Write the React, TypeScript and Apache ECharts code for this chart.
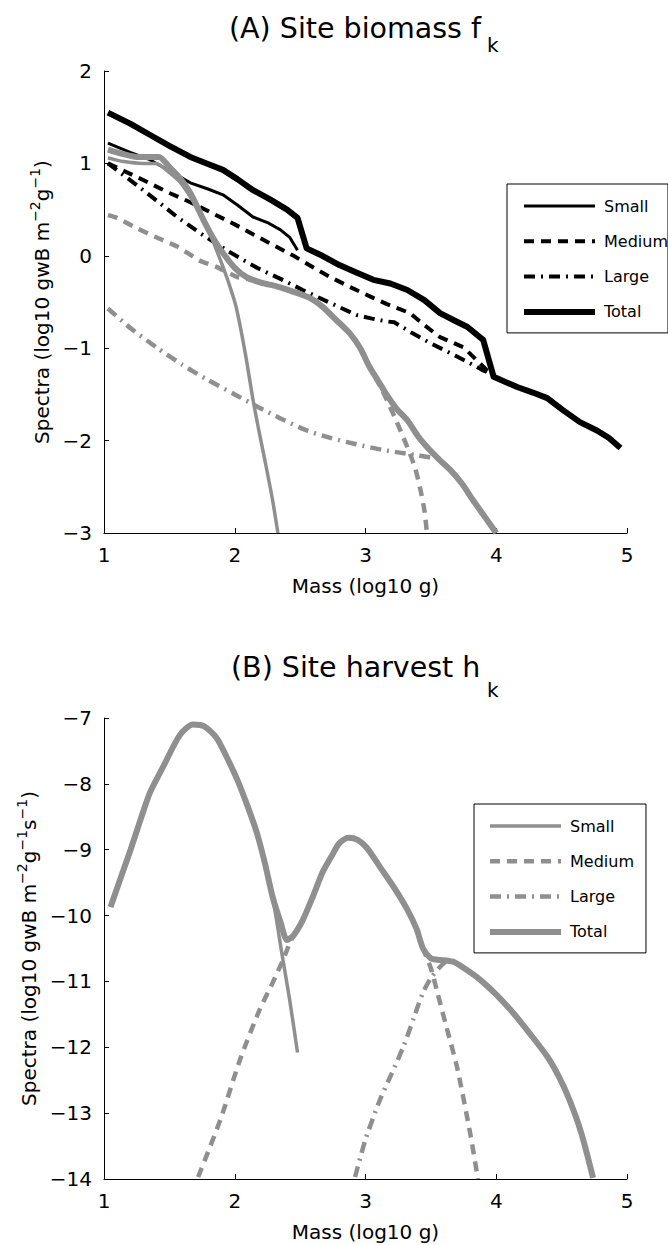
import React, { useEffect, useRef } from 'react';
import * as echarts from 'echarts';

const FONT = 'DejaVu Sans';
const BLACK = '#000000';
const GRAY = '#8f8f8f';

const legendNames = ['Small', 'Medium', 'Large', 'Total'];
const xAxisName = 'Mass (log10 g)';
const titleA = '(A) Site biomass f';
const titleB = '(B) Site harvest h';

// Panel A: site biomass (black)
const bioSmallBlack = [[1.03,1.22],[1.2,1.12],[1.35,1.04],[1.5,0.92],[1.66,0.79],[1.8,0.72],[1.91,0.66],[2.02,0.55],[2.14,0.42],[2.25,0.36],[2.35,0.28],[2.42,0.2],[2.48,0.06]];
const bioMediumBlack = [[1.03,1.0],[1.15,0.92],[1.3,0.82],[1.5,0.68],[1.66,0.58],[1.83,0.46],[2.0,0.34],[2.25,0.15],[2.45,0.0],[2.63,-0.15],[2.73,-0.23],[2.9,-0.35],[3.05,-0.45],[3.16,-0.52],[3.34,-0.62],[3.45,-0.75],[3.57,-0.88],[3.75,-0.99],[3.93,-1.24],[3.98,-1.28]];
const bioLargeBlack = [[1.03,1.0],[1.2,0.82],[1.4,0.6],[1.55,0.43],[1.73,0.25],[1.95,0.05],[2.17,-0.13],[2.35,-0.25],[2.52,-0.37],[2.73,-0.51],[2.93,-0.64],[3.05,-0.68],[3.16,-0.71],[3.22,-0.72],[3.35,-0.83],[3.49,-0.94],[3.7,-1.09],[3.9,-1.24],[3.98,-1.29]];
const bioTotalBlack = [[1.03,1.55],[1.2,1.43],[1.35,1.31],[1.5,1.19],[1.66,1.07],[1.8,0.99],[1.91,0.93],[2.02,0.83],[2.14,0.71],[2.27,0.61],[2.4,0.5],[2.48,0.41],[2.55,0.08],[2.67,0.0],[2.8,-0.1],[2.93,-0.18],[3.06,-0.26],[3.19,-0.3],[3.32,-0.37],[3.45,-0.48],[3.57,-0.62],[3.68,-0.7],[3.78,-0.77],[3.9,-0.91],[3.98,-1.31],[4.16,-1.42],[4.28,-1.48],[4.39,-1.54],[4.51,-1.67],[4.64,-1.8],[4.77,-1.89],[4.86,-1.97],[4.95,-2.08]];

// Panel A: site biomass (gray)
const bioSmallGray = [[1.03,1.06],[1.15,1.02],[1.3,1.0],[1.4,1.0],[1.5,0.9],[1.58,0.8],[1.66,0.64],[1.73,0.48],[1.79,0.31],[1.85,0.1],[1.91,-0.12],[1.96,-0.32],[2.01,-0.55],[2.08,-1.05],[2.14,-1.56],[2.19,-1.93],[2.24,-2.28],[2.29,-2.65],[2.33,-3.0]];
const bioMediumGray = [[1.03,0.44],[1.1,0.41],[1.25,0.3],[1.4,0.2],[1.56,0.1],[1.73,-0.05],[1.86,-0.12],[2.02,-0.23],[2.09,-0.25],[2.2,-0.29],[2.32,-0.33],[2.45,-0.39],[2.58,-0.46],[2.67,-0.55],[2.78,-0.7],[2.88,-0.84],[2.96,-1.0],[3.03,-1.2],[3.1,-1.38],[3.16,-1.55],[3.24,-1.8],[3.32,-2.07],[3.38,-2.3],[3.42,-2.53],[3.45,-2.75],[3.47,-3.0]];
const bioLargeGray = [[1.03,-0.57],[1.2,-0.78],[1.4,-0.99],[1.6,-1.18],[1.79,-1.34],[2.0,-1.5],[2.17,-1.63],[2.35,-1.76],[2.55,-1.89],[2.73,-1.97],[2.93,-2.04],[3.13,-2.1],[3.26,-2.13],[3.4,-2.16],[3.49,-2.18],[3.56,-2.2],[3.65,-2.32],[3.74,-2.47],[3.82,-2.64],[3.91,-2.82],[4.0,-3.0]];
const bioTotalGray = [[1.03,1.15],[1.15,1.1],[1.25,1.07],[1.35,1.07],[1.42,1.07],[1.5,0.96],[1.58,0.84],[1.66,0.68],[1.76,0.39],[1.84,0.18],[1.91,0.03],[2.0,-0.13],[2.09,-0.23],[2.2,-0.29],[2.32,-0.33],[2.45,-0.39],[2.58,-0.46],[2.67,-0.55],[2.78,-0.7],[2.88,-0.84],[2.96,-1.0],[3.03,-1.2],[3.1,-1.36],[3.16,-1.5],[3.24,-1.66],[3.32,-1.78],[3.4,-1.95],[3.47,-2.07],[3.56,-2.2],[3.65,-2.32],[3.74,-2.47],[3.82,-2.64],[3.91,-2.82],[4.0,-3.0]];

// Panel B: site harvest (gray)
const harvSmall = [[1.05,-9.87],[1.12,-9.47],[1.2,-9.02],[1.27,-8.6],[1.35,-8.14],[1.45,-7.75],[1.58,-7.26],[1.68,-7.1],[1.77,-7.13],[1.86,-7.3],[1.94,-7.6],[2.02,-7.94],[2.1,-8.35],[2.17,-8.75],[2.23,-9.2],[2.29,-9.72],[2.36,-10.57],[2.42,-11.28],[2.48,-12.08]];
const harvMedium = [[1.72,-13.97],[1.89,-13.1],[2.04,-12.19],[2.19,-11.43],[2.29,-11.02],[2.37,-10.67],[2.42,-10.42],[2.45,-10.3],[2.52,-10.07],[2.6,-9.7],[2.67,-9.35],[2.74,-9.1],[2.8,-8.9],[2.87,-8.82],[2.94,-8.85],[3.01,-8.97],[3.11,-9.26],[3.22,-9.58],[3.32,-9.91],[3.39,-10.2],[3.44,-10.5],[3.5,-10.8],[3.55,-11.17],[3.62,-11.7],[3.7,-12.3],[3.8,-13.3],[3.86,-14.0]];
const harvLarge = [[2.92,-13.97],[3.0,-13.4],[3.11,-12.8],[3.2,-12.4],[3.29,-11.99],[3.37,-11.55],[3.44,-11.17],[3.5,-10.95],[3.57,-10.78],[3.62,-10.7],[3.67,-10.7],[3.77,-10.82],[3.88,-10.98],[4.0,-11.2],[4.13,-11.48],[4.26,-11.8],[4.39,-12.14],[4.48,-12.45],[4.56,-12.8],[4.65,-13.3],[4.74,-13.98]];
const harvTotal = [[1.05,-9.87],[1.12,-9.47],[1.2,-9.02],[1.27,-8.6],[1.35,-8.14],[1.45,-7.75],[1.58,-7.26],[1.68,-7.1],[1.77,-7.13],[1.86,-7.3],[1.94,-7.6],[2.02,-7.94],[2.1,-8.35],[2.17,-8.75],[2.23,-9.2],[2.29,-9.72],[2.35,-10.1],[2.4,-10.37],[2.45,-10.3],[2.52,-10.07],[2.6,-9.7],[2.67,-9.35],[2.74,-9.1],[2.8,-8.9],[2.87,-8.82],[2.94,-8.85],[3.01,-8.97],[3.11,-9.26],[3.22,-9.58],[3.32,-9.91],[3.39,-10.2],[3.44,-10.5],[3.5,-10.65],[3.55,-10.67],[3.67,-10.7],[3.77,-10.82],[3.88,-10.98],[4.0,-11.2],[4.13,-11.48],[4.26,-11.8],[4.39,-12.14],[4.48,-12.45],[4.56,-12.8],[4.65,-13.3],[4.74,-13.98]];

const DASH = [10, 7];
const DASHDOT = [11, 6, 2, 6];

const minus = (v: number) => String(v).replace('-', '\u2212');

function lineSeries(name: string, data: number[][], color: string, width: number, type: any, idx: number, smooth: number) {
  return {
    type: 'line',
    name,
    data,
    xAxisIndex: idx,
    yAxisIndex: idx,
    symbol: 'none',
    showSymbol: false,
    clip: true,
    smooth,
    lineStyle: { color, width, type, cap: 'butt', join: 'round' },
    itemStyle: { color },
  };
}

function xAxis(idx: number) {
  return {
    gridIndex: idx,
    type: 'value',
    min: 1,
    max: 5,
    interval: 1,
    axisLine: { show: true, onZero: false, lineStyle: { color: BLACK, width: 1 } },
    axisTick: { show: true, inside: true, length: 5, lineStyle: { color: BLACK } },
    axisLabel: { color: BLACK, fontSize: 20, fontFamily: FONT, margin: 12, formatter: minus },
    splitLine: { show: false },
    name: xAxisName,
    nameLocation: 'middle',
    nameGap: 43,
    nameTextStyle: { color: BLACK, fontSize: 20, fontFamily: FONT },
  };
}

function yAxis(idx: number, min: number, max: number, name: string) {
  return {
    gridIndex: idx,
    type: 'value',
    min,
    max,
    interval: 1,
    axisLine: { show: true, onZero: false, lineStyle: { color: BLACK, width: 1 } },
    axisTick: { show: true, inside: true, length: 5, lineStyle: { color: BLACK } },
    axisLabel: { color: BLACK, fontSize: 20, fontFamily: FONT, margin: 12, formatter: minus },
    splitLine: { show: false },
    name,
    nameLocation: 'middle',
    nameGap: 38,
    nameTextStyle: {
      color: BLACK,
      fontSize: 20,
      fontFamily: FONT,
      rich: {
        n: { fontSize: 20, fontFamily: FONT, color: BLACK, lineHeight: 28 },
        s: { fontSize: 14, fontFamily: FONT, color: BLACK, lineHeight: 14, verticalAlign: 'top' },
      },
    },
  };
}

function legend(prefix: string, left: number, top: number, widths: number[], padding: number[]) {
  return {
    show: true,
    orient: 'vertical',
    left,
    top,
    padding,
    itemWidth: 71,
    itemHeight: 16,
    itemGap: 19.3,
    borderColor: BLACK,
    borderWidth: 1,
    backgroundColor: '#ffffff',
    selectedMode: false,
    itemStyle: { opacity: 0 },
    formatter: (n: string) => n.slice(prefix.length),
    textStyle: { color: BLACK, fontSize: 16, fontFamily: FONT, lineHeight: 16, padding: [0, 0, 0, 4] },
    data: legendNames.map((n, i) => ({ name: prefix + n, lineStyle: { width: widths[i] }, itemStyle: { opacity: 0 } })),
  };
}

export default function App() {
  const ref = useRef<HTMLDivElement>(null);
  useEffect(() => {
    if (!ref.current) return;
    const chart = echarts.init(ref.current, null, { renderer: 'svg' });
    const yNameA = '{n|Spectra (log10 gwB m}{s|\u22122}{n|g}{s|\u22121}{n|)}';
    const yNameB = '{n|Spectra (log10 gwB m}{s|\u22122}{n|g}{s|\u22121}{n|s}{s|\u22121}{n|)}';
    chart.setOption({
      animation: false,
      backgroundColor: '#ffffff',
      title: [
        { text: titleA, left: 229, top: 14, padding: 0, textStyle: { color: BLACK, fontSize: 28.5, fontWeight: 'normal', fontFamily: FONT } },
        { text: titleB, left: 231, top: 653, padding: 0, textStyle: { color: BLACK, fontSize: 28.5, fontWeight: 'normal', fontFamily: FONT } },
      ],
      graphic: [
        { type: 'text', left: 487, top: 35, style: { text: 'k', fontSize: 20, fontFamily: FONT, fill: BLACK } },
        { type: 'text', left: 487, top: 680, style: { text: 'k', fontSize: 20, fontFamily: FONT, fill: BLACK } },
      ],
      grid: [
        { left: 104, top: 71, width: 523, height: 462 },
        { left: 104, top: 718, width: 523, height: 461 },
      ],
      xAxis: [xAxis(0), xAxis(1)],
      yAxis: [yAxis(0, -3, 2, yNameA), yAxis(1, -14, -7, yNameB)],
      legend: [
        legend('A ', 507, 184, [3, 4, 4, 6], [14, 0, 13, 14]),
        legend('B ', 474, 804, [3.5, 4.5, 4.5, 6], [14, 12, 13, 13]),
      ],
      series: [
        lineSeries('A Small', bioSmallBlack, BLACK, 3, 'solid', 0, 0),
        lineSeries('A Medium', bioMediumBlack, BLACK, 4, DASH, 0, 0),
        lineSeries('A Large', bioLargeBlack, BLACK, 4, DASHDOT, 0, 0),
        lineSeries('A Total', bioTotalBlack, BLACK, 6, 'solid', 0, 0),
        lineSeries('A gray Small', bioSmallGray, GRAY, 3.5, 'solid', 0, 0.25),
        lineSeries('A gray Medium', bioMediumGray, GRAY, 4.5, DASH, 0, 0.25),
        lineSeries('A gray Large', bioLargeGray, GRAY, 4.5, DASHDOT, 0, 0.25),
        lineSeries('A gray Total', bioTotalGray, GRAY, 6, 'solid', 0, 0.25),
        lineSeries('B Small', harvSmall, GRAY, 3.5, 'solid', 1, 0.25),
        lineSeries('B Medium', harvMedium, GRAY, 4.5, DASH, 1, 0.25),
        lineSeries('B Large', harvLarge, GRAY, 4.5, DASHDOT, 1, 0.25),
        lineSeries('B Total', harvTotal, GRAY, 6, 'solid', 1, 0.25),
      ],
    });
    return () => chart.dispose();
  }, []);
  return <div ref={ref} style={{ position: 'absolute', left: 0, top: 0, width: 668, height: 1245 }} />;
}
